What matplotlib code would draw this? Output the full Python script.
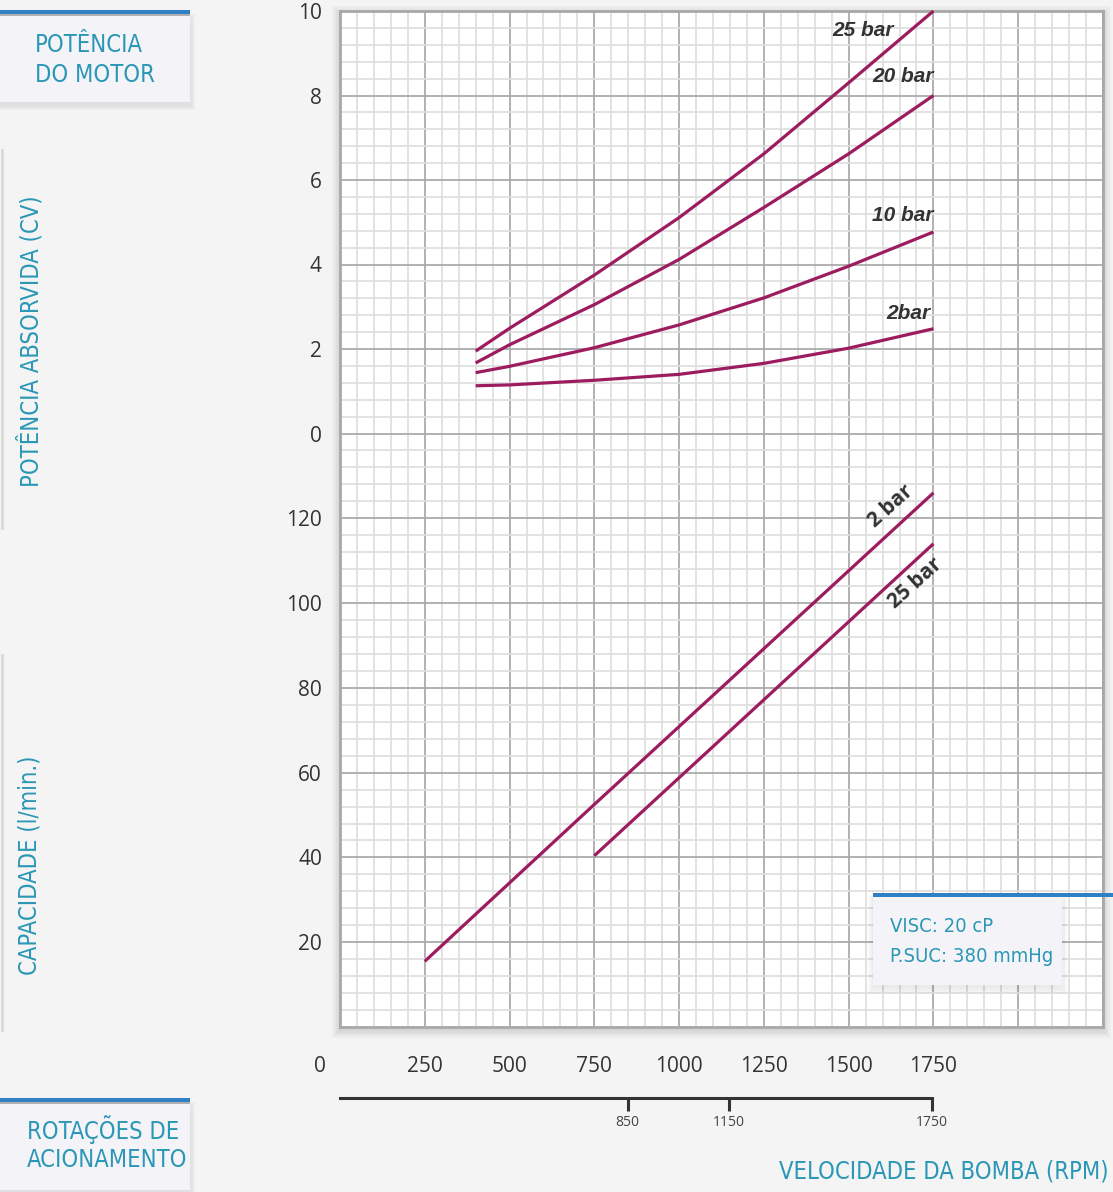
import matplotlib
matplotlib.use('Agg')
import matplotlib.pyplot as plt
from matplotlib import font_manager
from matplotlib.patches import Rectangle
from matplotlib.lines import Line2D
from matplotlib.ticker import MultipleLocator, FixedLocator, NullFormatter

# ---------------- data ----------------
rpm_power = [400, 500, 750, 1000, 1250, 1500, 1750]
power_25bar = [1.95, 2.49, 3.75, 5.11, 6.62, 8.30, 10.0]
power_20bar = [1.67, 2.10, 3.05, 4.12, 5.35, 6.62, 8.00]
power_10bar = [1.44, 1.59, 2.03, 2.57, 3.21, 3.96, 4.77]
power_2bar = [1.13, 1.15, 1.26, 1.40, 1.66, 2.02, 2.48]

rpm_cap_2bar = [250, 750, 1750]
cap_2bar = [15.5, 52.5, 126.0]
rpm_cap_25bar = [750, 1750]
cap_25bar = [40.4, 114.0]

x_ticks = [250, 500, 750, 1000, 1250, 1500, 1750]
power_ticks = [0, 2, 4, 6, 8, 10]
cap_ticks = [20, 40, 60, 80, 100, 120]
motor_ticks = [850, 1150, 1750]

# ---------------- styling ----------------
W, H = 1113, 1192
def fx(px):
    return px / W
def fy(py):
    return 1 - py / H

names = {f.name for f in font_manager.fontManager.ttflist}
if 'Liberation Sans Narrow' in names:
    COND = dict(family='Liberation Sans Narrow')
else:
    COND = dict(family='DejaVu Sans', stretch='condensed')
TICKFONT = 'Open Sans' if 'Open Sans' in names else 'DejaVu Sans'
LABFONT = 'Liberation Sans' if 'Liberation Sans' in names else 'DejaVu Sans'

TEAL = '#2a97b6'
BLUE = '#2f80c4'
CURVE = '#9c1c5f'
TXT = '#333333'
MAJ = '#a8a8a8'
MIN = '#dedede'

fig = plt.figure(figsize=(W / 100, H / 100), dpi=100)
fig.patch.set_facecolor('#f4f4f4')

def add_rect(x0, y0, x1, y1, **kw):
    r = Rectangle((fx(x0), fy(y1)), fx(x1) - fx(x0), fy(y0) - fy(y1),
                  transform=fig.transFigure, **kw)
    fig.add_artist(r)
    return r

def shadow(x0, y0, x1, y1, z, steps=6, spread=8, dy=3):
    for i in range(steps, 0, -1):
        s = spread * i / steps
        add_rect(x0 - s, y0 - s + dy, x1 + s, y1 + s + dy,
                 facecolor='#000000', edgecolor='none', alpha=0.018, zorder=z)

# shadow of chart
shadow(340, 11, 1103, 1027, -2)

# ---------------- axes ----------------
top_px, mid_px, bot_px = 11, 433.5, 1027
left_px, right_px = 340, 1103
ax_top = fig.add_axes([fx(left_px), fy(mid_px), fx(right_px) - fx(left_px),
                       fy(top_px) - fy(mid_px)])
ax_bot = fig.add_axes([fx(left_px), fy(bot_px), fx(right_px) - fx(left_px),
                       fy(mid_px) - fy(bot_px)])

for ax in (ax_top, ax_bot):
    ax.set_facecolor('white')
    ax.set_xlim(0, 2250)
    ax.xaxis.set_major_locator(MultipleLocator(250))
    ax.xaxis.set_minor_locator(MultipleLocator(50))
    ax.grid(which='minor', color=MIN, lw=1.25, zorder=0)
    ax.grid(which='major', color=MAJ, lw=1.25, zorder=0)
    ax.set_axisbelow(True)
    for s in ax.spines.values():
        s.set_color(MAJ)
        s.set_linewidth(2)
    ax.tick_params(which='both', length=0)
    ax.tick_params(axis='y', pad=13, labelsize=15, labelcolor=TXT)

ax_top.set_ylim(0, 10)
ax_top.yaxis.set_major_locator(FixedLocator([0, 2, 4, 6, 8, 10]))
ax_top.yaxis.set_minor_locator(MultipleLocator(0.4))
ax_top.set_yticklabels([str(v) for v in power_ticks], fontfamily=TICKFONT,
                       fontsize=15, color=TXT)
ax_top.xaxis.set_major_formatter(NullFormatter())
ax_top.spines['bottom'].set_visible(False)

ax_bot.set_ylim(0, 140)
ax_bot.yaxis.set_major_locator(FixedLocator([20, 40, 60, 80, 100, 120, 140]))
ax_bot.yaxis.set_minor_locator(MultipleLocator(4))
ax_bot.set_yticklabels([str(v) for v in cap_ticks] + [''], fontfamily=TICKFONT,
                       fontsize=15, color=TXT)
ax_bot.spines['top'].set_visible(False)
ax_bot.set_xticks([0] + x_ticks + [2000, 2250])
ax_bot.set_xticklabels([''] + [str(v) for v in x_ticks] + ['', ''],
                       fontfamily=TICKFONT, fontsize=15, color=TXT)
ax_bot.tick_params(axis='x', pad=21)

# power curves
for vals in (power_25bar, power_20bar, power_10bar, power_2bar):
    ax_top.plot(rpm_power, vals, color=CURVE, lw=2.3, solid_capstyle='butt',
                solid_joinstyle='round', clip_on=False, zorder=3)
# capacity curves
ax_bot.plot(rpm_cap_2bar, cap_2bar, color=CURVE, lw=2.3, solid_capstyle='butt', zorder=3)
ax_bot.plot(rpm_cap_25bar, cap_25bar, color=CURVE, lw=2.3, solid_capstyle='butt', zorder=3)

lab_kw = dict(fontfamily=LABFONT, fontweight='bold', fontstyle='italic',
              fontsize=15, color=TXT, ha='center', va='center', zorder=4)
ax_top.text(1542, 9.53, '25 bar', **lab_kw)
ax_top.text(1660, 8.44, '20 bar', **lab_kw)
ax_top.text(1660, 5.15, '10 bar', **lab_kw)
ax_top.text(1675, 2.85, '2bar', **lab_kw)
cap_kw = dict(fontfamily=TICKFONT, fontweight='bold', fontsize=15, color=TXT,
              ha='center', va='center', rotation=42, zorder=4)
ax_bot.text(1625, 122.9, '2 bar', **cap_kw)
ax_bot.text(1697, 104.6, '25 bar', **cap_kw)

# origin label
fig.text(fx(320), fy(1066), '0', fontfamily=TICKFONT, fontsize=15, color=TXT,
         ha='center', va='center')

# ---------------- motor rpm axis ----------------
ax_m = fig.add_axes([fx(340), fy(1098), fx(932) - fx(340), 0.0001])
ax_m.set_facecolor('none')
ax_m.set_xlim(0, 1750)
ax_m.set_yticks([])
for k in ('top', 'left', 'right'):
    ax_m.spines[k].set_visible(False)
ax_m.spines['bottom'].set_color(TXT)
ax_m.spines['bottom'].set_linewidth(2.2)
ax_m.set_xticks(motor_ticks)
ax_m.set_xticklabels([str(v) for v in motor_ticks], fontfamily=TICKFONT,
                     fontsize=10, color='#444444')
ax_m.tick_params(axis='x', direction='out', length=9, width=2.2, color=TXT, pad=3)

# ---------------- decorative boxes and labels ----------------
BIG = 17

def label_box(y0, y1, lines_y, texts, tx):
    shadow(0, y0, 190, y1, 1, steps=4, spread=5, dy=3)
    add_rect(0, y0, 190, y1, facecolor='#f3f3f8', edgecolor='none', zorder=2)
    add_rect(0, y0 - 4, 190, y0, facecolor='#b0b0b0', edgecolor='none', zorder=3)
    add_rect(0, y0 - 6, 190, y0 - 2, facecolor=BLUE, edgecolor='none', zorder=3)
    for t, yy in zip(texts, lines_y):
        fig.text(fx(tx), fy(yy), t, color=TEAL, fontsize=BIG, ha='left',
                 va='center', zorder=4, **COND)

label_box(16, 102, [45, 75], ['POTÊNCIA', 'DO MOTOR'], 35)
label_box(1104, 1190, [1130, 1160], ['ROTAÇÕES DE', 'ACIONAMENTO'], 27)

# faint vertical lines at far left
fig.add_artist(Line2D([fx(2), fx(2)], [fy(150), fy(528)], transform=fig.transFigure,
                      color='#dadada', lw=2))
fig.add_artist(Line2D([fx(2), fx(2)], [fy(655), fy(1030)], transform=fig.transFigure,
                      color='#dadada', lw=2))

fig.text(fx(30), fy(341), 'POTÊNCIA ABSORVIDA (CV)', rotation=90, color=TEAL,
         fontsize=BIG, ha='center', va='center', **COND)
fig.text(fx(30), fy(865), 'CAPACIDADE (l/min.)', rotation=90, color=TEAL,
         fontsize=BIG, ha='center', va='center', **COND)
fig.text(fx(1109), fy(1172), 'VELOCIDADE DA BOMBA (RPM)', color=TEAL,
         fontsize=BIG, ha='right', va='center', **COND)

# info box
shadow(873, 897, 1062, 985, 5, steps=4, spread=5, dy=3)
add_rect(873, 897, 1062, 985, facecolor='#f4f4f8', edgecolor='none', zorder=6)
add_rect(873, 893, 1113, 897, facecolor=BLUE, edgecolor='none', zorder=7)
fig.text(fx(890), fy(927), 'VISC: 20 cP', color=TEAL, fontsize=14.5, ha='left',
         va='center', zorder=8, **COND)
fig.text(fx(890), fy(956), 'P.SUC: 380 mmHg', color=TEAL, fontsize=14.5, ha='left',
         va='center', zorder=8, **COND)

fig.savefig('out.png', dpi=100, facecolor=fig.get_facecolor())
